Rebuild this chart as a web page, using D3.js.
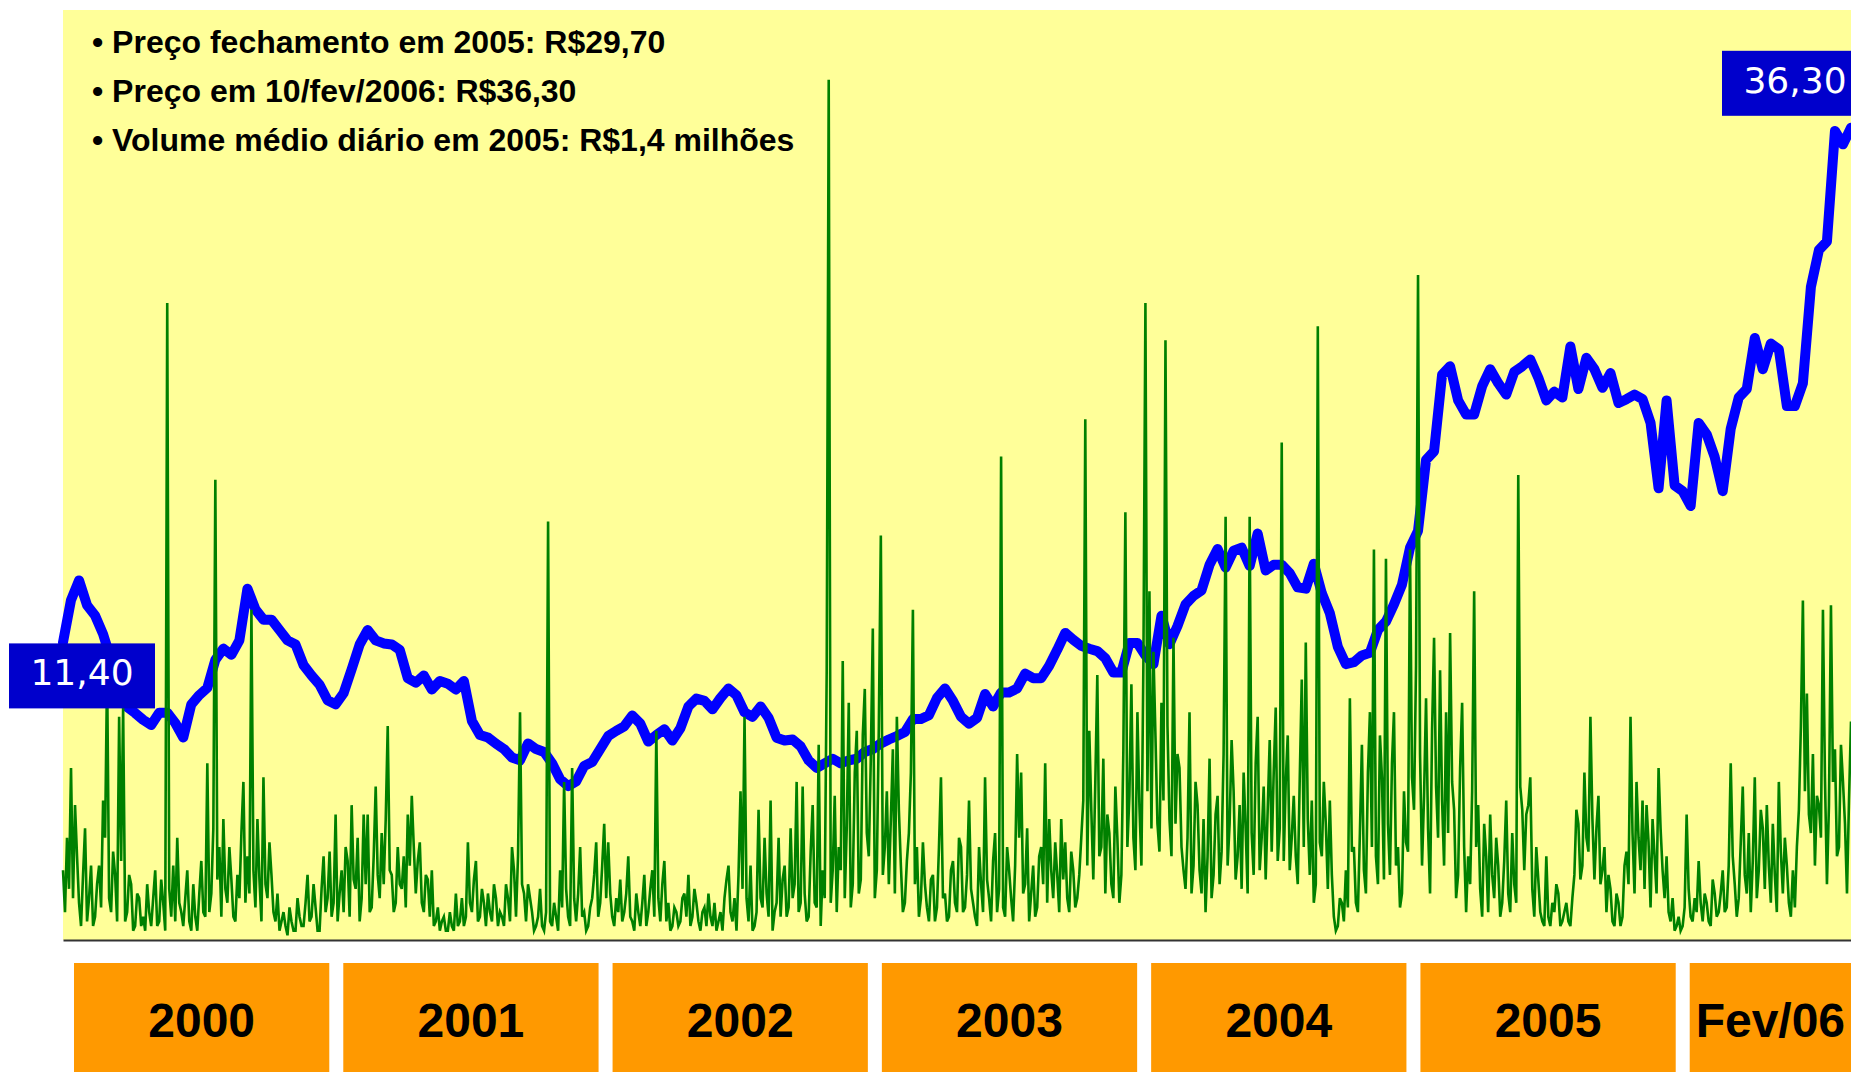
<!DOCTYPE html>
<html>
<head>
<meta charset="utf-8">
<script src="https://cdn.jsdelivr.net/npm/d3@7"></script>
<style>
    body { margin: 0; background: #fff; }
    svg { display: block; }
</style>
</head>
<body>
<div id="chart"></div>
<script>
// serie amostrada: preco a cada 10 dias, volume a cada 60 horas
var startDate = new Date(2000, 0, 3);
var endDate = new Date(2006, 1, 10);
var priceStepDays = 10;
var volumeStepHours = 60;

// preco de fechamento (R$)
var price = [
    11.4, 13.45, 14.4, 13.2, 12.7, 11.8, 10.55, 8.85, 8.27, 7.98,
    7.65, 7.4, 8.0, 8.0, 7.5, 6.8, 8.4, 8.85, 9.2, 10.55,
    11.1, 10.8, 11.5, 14.0, 13.0, 12.5, 12.5, 12.0, 11.5, 11.3,
    10.3, 9.8, 9.35, 8.6, 8.4, 8.95, 10.1, 11.3, 12.0, 11.5,
    11.35, 11.3, 11.04, 9.67, 9.45, 9.8, 9.12, 9.53, 9.4, 9.12,
    9.53, 7.6, 6.92, 6.8, 6.5, 6.24, 5.83, 5.69, 6.51, 6.24,
    6.1, 5.55, 4.78, 4.45, 4.67, 5.42, 5.61, 6.24, 6.87, 7.12,
    7.34, 7.86, 7.47, 6.6, 6.92, 7.2, 6.65, 7.25, 8.3, 8.68,
    8.57, 8.16, 8.71, 9.17, 8.84, 8.02, 7.8, 8.3, 7.75, 6.79,
    6.65, 6.7, 6.37, 5.69, 5.33, 5.55, 5.77, 5.55, 5.69, 5.77,
    6.1, 6.24, 6.51, 6.7, 6.87, 7.06, 7.69, 7.69, 7.88, 8.71,
    9.17, 8.57, 7.8, 7.47, 7.75, 8.9, 8.3, 8.98, 8.98, 9.17,
    9.89, 9.67, 9.67, 10.27, 11.04, 11.86, 11.53, 11.23, 11.09, 10.98,
    10.63, 9.94, 9.94, 11.37, 11.37, 10.77, 10.35, 12.69, 11.31, 12.19,
    13.24, 13.65, 13.92, 15.16, 15.92, 15.02, 15.84, 15.98, 15.1, 16.67,
    14.88, 15.16, 15.16, 14.75, 14.06, 14.0, 15.21, 13.78, 12.82, 11.18,
    10.35, 10.44, 10.77, 10.9, 12.0, 12.41, 13.24, 14.2, 15.98, 16.8,
    20.23, 20.65, 24.35, 24.76, 23.11, 22.43, 22.43, 23.8, 24.62, 23.94,
    23.39, 24.49, 24.76, 25.09, 24.21, 23.11, 23.53, 23.25, 25.72, 23.66,
    25.17, 24.62, 23.72, 24.43, 22.98, 23.17, 23.39, 23.17, 22.02, 18.86,
    23.11, 19.0, 18.72, 18.0, 22.02, 21.47, 20.37, 18.72, 21.74, 23.25,
    23.66, 26.13, 24.62, 25.86, 25.58, 22.84, 22.84, 23.94, 28.6, 30.39,
    30.8, 36.15, 35.5, 36.3
];

// volume negociado (R$ milhoes)
var volume = [
    1.5, 0.6, 2.2, 1.1, 3.7, 0.9, 2.9, 1.8, 0.8, 0.3, 1.4, 2.4, 0.4, 0.9, 1.6, 0.3, 0.5, 1.2, 1.6, 0.7,
    3.0, 2.2, 5.8, 0.9, 0.6, 1.9, 1.4, 0.4, 4.8, 1.7, 5.0, 0.4, 0.6, 1.4, 1.2, 0.2, 0.3, 1.0, 0.9, 0.3,
    0.5, 0.2, 1.2, 0.6, 0.3, 0.9, 1.5, 0.3, 0.4, 1.3, 0.8, 0.2, 13.7, 1.1, 0.5, 1.6, 0.4, 2.2, 0.8, 0.6,
    0.3, 0.9, 1.5, 0.4, 0.2, 1.2, 0.5, 0.2, 1.0, 1.7, 0.6, 0.5, 3.8, 0.6, 1.0, 2.4, 9.9, 1.3, 2.0, 0.5,
    2.6, 1.1, 0.8, 2.0, 1.3, 0.5, 0.4, 1.4, 0.9, 2.3, 3.4, 0.8, 1.8, 1.0, 7.1, 1.5, 0.7, 2.6, 1.3, 0.4,
    3.5, 1.2, 0.9, 2.1, 1.4, 0.6, 0.4, 1.0, 0.2, 0.4, 0.6, 0.3, 0.1, 0.7, 0.4, 0.2, 0.2, 0.9, 0.5, 0.3,
    0.3, 0.8, 1.4, 0.4, 0.5, 1.2, 0.7, 0.2, 0.2, 1.1, 1.8, 0.6, 0.9, 1.9, 0.5, 0.8, 2.7, 0.4, 1.0, 1.5,
    0.6, 2.0, 1.7, 0.5, 2.9, 1.3, 1.1, 2.2, 0.4, 0.9, 2.7, 1.2, 2.7, 0.6, 0.7, 1.8, 3.3, 1.4, 0.9, 2.3,
    1.2, 2.6, 4.6, 1.5, 1.4, 0.6, 0.8, 2.0, 1.2, 1.1, 1.8, 0.7, 2.7, 1.6, 3.1, 2.0, 1.0, 1.7, 2.1, 0.8,
    0.6, 1.4, 1.3, 0.5, 1.5, 0.3, 0.4, 0.7, 0.2, 0.4, 0.5, 0.2, 0.2, 0.6, 0.3, 0.2, 1.0, 0.3, 0.4, 0.9,
    0.3, 0.5, 2.1, 0.8, 0.6, 1.3, 1.7, 0.4, 0.5, 1.1, 0.8, 0.3, 1.0, 0.6, 0.4, 1.2, 0.9, 0.3, 0.6, 0.5,
    0.3, 1.2, 0.9, 0.4, 2.0, 1.5, 0.5, 1.8, 4.9, 1.2, 1.0, 0.4, 1.2, 0.9, 0.6, 0.2, 0.3, 0.5, 1.1, 0.3,
    0.2, 0.6, 9.0, 0.4, 0.3, 0.8, 0.5, 0.2, 1.5, 0.7, 3.4, 1.1, 0.5, 0.3, 3.7, 0.9, 0.4, 1.0, 2.0, 0.5,
    0.6, 0.2, 0.3, 0.7, 0.9, 1.4, 2.1, 0.5, 0.8, 1.6, 2.5, 0.9, 2.1, 1.0, 0.5, 0.3, 0.9, 0.6, 1.3, 0.4,
    0.6, 1.0, 1.8, 0.5, 0.4, 0.2, 1.0, 0.6, 0.3, 0.8, 1.4, 0.3, 0.6, 1.1, 1.5, 0.5, 4.5, 0.9, 0.4, 1.2,
    1.7, 0.4, 0.8, 0.2, 0.3, 0.7, 0.6, 0.3, 0.4, 0.9, 1.0, 0.5, 1.4, 0.3, 0.5, 1.1, 0.8, 0.4, 0.2, 0.6,
    0.7, 0.3, 1.0, 0.5, 0.3, 0.8, 0.2, 0.4, 0.6, 0.2, 0.9, 1.3, 1.6, 0.6, 0.4, 0.9, 0.2, 1.4, 3.2, 1.1,
    4.8, 0.9, 0.4, 1.6, 0.2, 0.3, 0.6, 2.8, 0.9, 0.7, 2.2, 1.0, 0.5, 3.0, 0.2, 0.6, 0.8, 2.2, 0.5, 1.3,
    1.6, 0.5, 0.7, 2.4, 0.9, 1.2, 3.4, 0.6, 0.8, 3.3, 1.0, 0.4, 0.5, 1.9, 2.9, 0.8, 0.7, 4.2, 0.3, 1.5,
    0.9, 5.8, 18.5, 0.8, 1.5, 3.1, 0.6, 2.0, 1.5, 6.0, 0.9, 2.4, 5.1, 0.7, 1.2, 3.6, 4.5, 1.0, 1.3, 4.4,
    5.4, 2.3, 1.8, 3.9, 6.7, 0.9, 1.5, 4.6, 8.7, 1.4, 2.0, 3.2, 1.2, 2.6, 4.1, 1.0, 4.8, 2.8, 1.6, 0.6,
    0.8, 1.7, 2.3, 3.6, 7.1, 1.2, 2.0, 0.5, 0.9, 2.1, 1.2, 0.7, 0.4, 1.3, 1.4, 0.4, 0.7, 2.0, 3.5, 0.9,
    1.0, 0.4, 0.5, 1.5, 1.7, 0.8, 0.6, 2.2, 2.0, 0.6, 0.7, 1.4, 3.0, 1.1, 0.8, 0.5, 0.3, 2.0, 1.2, 0.6,
    3.5, 1.3, 0.9, 0.4, 1.7, 2.3, 0.6, 1.1, 10.4, 0.7, 0.5, 2.0, 1.5, 0.9, 0.4, 1.6, 4.0, 2.2, 3.6, 1.0,
    1.2, 2.4, 0.4, 1.0, 1.6, 0.5, 0.7, 1.8, 2.0, 1.2, 3.8, 0.8, 2.6, 1.5, 0.9, 2.1, 1.4, 0.6, 2.6, 1.3,
    2.1, 0.9, 0.6, 1.9, 1.5, 0.7, 0.9, 1.4, 2.2, 3.0, 11.2, 1.6, 4.5, 2.8, 1.3, 3.4, 5.7, 1.8, 2.0, 3.9,
    1.0, 2.7, 2.3, 1.2, 0.9, 3.3, 2.2, 0.8, 1.4, 4.1, 9.2, 2.0, 3.1, 5.5, 2.2, 1.5, 4.9, 2.9, 1.6, 6.0,
    13.7, 3.2, 7.5, 2.4, 6.2, 4.4, 2.5, 1.9, 5.1, 3.0, 12.9, 4.6, 2.6, 1.8, 6.5, 2.5, 4.0, 3.7, 2.0, 1.5,
    1.1, 2.2, 4.9, 1.0, 1.6, 3.4, 2.9, 1.5, 1.0, 2.6, 0.6, 1.8, 3.9, 0.9, 1.4, 2.7, 3.1, 1.2, 1.9, 4.0,
    9.1, 1.6, 2.5, 4.3, 3.2, 1.3, 1.8, 2.9, 1.1, 3.6, 2.4, 1.0, 9.1, 2.3, 1.4, 3.8, 4.8, 1.5, 2.2, 3.3,
    1.3, 2.8, 4.3, 1.9, 3.6, 5.0, 1.7, 2.4, 10.7, 1.7, 3.4, 4.4, 1.5, 2.2, 3.1, 1.8, 1.2, 3.5, 5.6, 2.0,
    6.4, 2.6, 1.4, 3.0, 0.8, 1.2, 13.2, 2.1, 1.8, 3.4, 2.5, 1.1, 3.0, 1.4, 0.5, 0.2, 0.3, 0.9, 0.8, 0.4,
    1.5, 0.7, 5.2, 1.9, 2.0, 0.8, 0.6, 2.3, 4.2, 1.5, 1.0, 3.6, 4.9, 2.0, 8.4, 1.8, 1.2, 4.4, 3.5, 1.3,
    8.2, 2.5, 1.4, 3.8, 4.9, 1.6, 2.0, 0.7, 1.0, 3.2, 2.1, 1.9, 8.4, 3.5, 2.8, 5.9, 14.3, 4.0, 1.6, 3.1,
    5.2, 2.4, 1.0, 4.5, 6.5, 3.3, 2.2, 5.8, 3.0, 1.6, 4.9, 2.3, 6.6, 3.4, 2.8, 0.9, 1.4, 3.7, 5.1, 2.0,
    0.6, 1.8, 1.2, 3.2, 7.5, 2.0, 2.9, 1.1, 0.5, 2.5, 1.8, 0.6, 2.7, 1.4, 0.9, 2.2, 1.6, 0.5, 0.8, 1.7,
    3.0, 1.0, 0.6, 2.3, 1.2, 0.8, 10.0, 3.3, 2.8, 1.5, 2.7, 2.9, 3.5, 1.1, 0.5, 2.0, 1.3, 0.6, 0.4, 0.3,
    1.8, 0.5, 0.3, 0.8, 0.6, 1.2, 1.0, 0.3, 0.4, 0.6, 0.8, 0.4, 0.3, 0.9, 1.4, 2.8, 2.5, 1.3, 1.6, 3.6,
    2.2, 1.9, 4.8, 2.6, 1.3, 2.4, 3.1, 1.2, 1.5, 2.0, 0.6, 1.4, 1.1, 0.4, 0.3, 1.0, 0.8, 0.3, 0.5, 1.6,
    1.9, 1.2, 4.8, 2.3, 1.0, 3.4, 2.2, 1.5, 3.0, 1.1, 2.9, 2.1, 0.7, 2.6, 1.8, 1.0, 3.7, 2.4, 1.5, 0.9,
    1.8, 0.6, 0.4, 0.9, 0.2, 0.3, 0.5, 0.2, 0.3, 0.7, 2.7, 1.1, 0.5, 0.4, 0.9, 0.6, 1.7, 0.8, 0.4, 1.0,
    0.8, 0.4, 0.3, 1.3, 1.0, 0.5, 0.6, 1.0, 1.5, 0.6, 0.7, 1.6, 3.8, 1.8, 1.2, 0.5, 0.9, 2.1, 3.3, 1.4,
    1.0, 2.3, 0.6, 1.7, 3.5, 0.9, 1.5, 2.8, 2.4, 1.1, 2.9, 1.6, 0.8, 2.5, 1.4, 0.6, 3.4, 1.9, 1.0, 2.2,
    1.6, 0.8, 0.5, 1.5, 0.7, 2.0, 2.8, 4.6, 7.3, 3.2, 5.3, 2.7, 2.3, 4.0, 1.6, 3.1, 2.9, 2.2, 7.1, 3.5,
    1.2, 2.9, 7.2, 3.4, 4.1, 1.8, 2.0, 4.2, 3.4, 2.5, 1.0, 3.0, 4.7
];

var years = ["2000", "2001", "2002", "2003", "2004", "2005", "Fev/06"];

var notes = [
    "\u2022 Pre\u00e7o fechamento em 2005: R$29,70",
    "\u2022 Pre\u00e7o em 10/fev/2006: R$36,30",
    "\u2022 Volume m\u00e9dio di\u00e1rio em 2005: R$1,4 milh\u00f5es"
];

var firstLabel = "11,40";
var lastLabel = "36,30";

document.addEventListener('DOMContentLoaded', main);

function main() {

    var width = 1851;
    var height = 1072;
    var plot = { left: 63, top: 10, right: 1851, bottom: 940 };

    var svg = d3.select("#chart")
        .append("svg")
            .attr("width", width)
            .attr("height", height);

    var x = d3.scaleTime()
        .domain([startDate, endDate])
        .range([plot.left, plot.right]);

    var yPrice = d3.scaleLinear()
        .domain([-3, 42])
        .range([plot.bottom, plot.top]);

    var yVolume = d3.scaleLinear()
        .domain([0, 20])
        .range([plot.bottom, plot.top]);

    // fundo amarelo
    svg.append("rect")
        .attr("x", plot.left)
        .attr("y", plot.top)
        .attr("width", plot.right - plot.left)
        .attr("height", plot.bottom - plot.top)
        .attr("fill", "#ffff99");

    var priceLine = d3.line()
        .x(function (d, i) {
            return x(d3.timeDay.offset(startDate, i * priceStepDays));
        })
        .y(function (d) {
            return yPrice(d);
        });

    var volumeLine = d3.line()
        .x(function (d, i) {
            return x(d3.timeHour.offset(startDate, i * volumeStepHours));
        })
        .y(function (d) {
            return yVolume(d);
        });

    svg.append("path")
        .datum(price)
        .attr("d", priceLine)
        .attr("fill", "none")
        .attr("stroke", "#0000ff")
        .attr("stroke-width", 10)
        .attr("stroke-linejoin", "round")
        .attr("stroke-linecap", "round");

    svg.append("path")
        .datum(volume)
        .attr("d", volumeLine)
        .attr("fill", "none")
        .attr("stroke", "#008000")
        .attr("stroke-width", 2.6);

    var axis = svg.append("g")
        .attr("transform", "translate(0," + plot.bottom + ")")
        .call(d3.axisBottom(x).tickValues([]).tickSizeOuter(0));
    axis.select(".domain")
        .attr("stroke", "#333")
        .attr("stroke-width", 2);

    // textos de destaque
    svg.selectAll(".note")
        .data(notes)
        .enter().append("text")
        .attr("class", "note")
        .attr("x", 92)
        .attr("y", function (d, i) {
            return 53 + i * 49;
        })
        .attr("font-family", "'Liberation Sans', Arial, sans-serif")
        .attr("font-weight", "bold")
        .attr("font-size", 32)
        .attr("fill", "#000")
        .text(function (d) {
            return d;
        });

    // caixas dos anos
    var band = d3.scaleBand()
        .domain(years)
        .range([74, 1945])
        .paddingInner(0.052)
        .paddingOuter(0);

    var boxes = svg.selectAll(".year")
        .data(years)
        .enter().append("g")
        .attr("class", "year");

    boxes.append("rect")
        .attr("x", function (d) { return band(d); })
        .attr("y", 963)
        .attr("width", band.bandwidth())
        .attr("height", 120)
        .attr("fill", "#ff9900");

    boxes.append("text")
        .attr("x", function (d) {
            var x0 = band(d);
            var x1 = Math.min(x0 + band.bandwidth(), width);
            return (x0 + x1) / 2;
        })
        .attr("y", 1037)
        .attr("text-anchor", "middle")
        .attr("font-family", "'Liberation Sans', Arial, sans-serif")
        .attr("font-weight", "bold")
        .attr("font-size", 48)
        .attr("fill", "#000")
        .text(function (d) { return d; });

    // etiquetas de preco inicial e final
    var firstY = yPrice(price[0]);
    var lastY = yPrice(price[price.length - 1]);
    var labels = [
        { text: firstLabel, x: x(startDate) - 54, y: firstY + 1 },
        { text: lastLabel, x: x(endDate) - 129, y: lastY - 77 }
    ];

    var tags = svg.selectAll(".tag")
        .data(labels)
        .enter().append("g")
        .attr("class", "tag");

    tags.append("rect")
        .attr("x", function (d) { return d.x; })
        .attr("y", function (d) { return d.y; })
        .attr("width", 146)
        .attr("height", 65)
        .attr("fill", "#0000cc");

    tags.append("text")
        .attr("x", function (d) { return d.x + 73; })
        .attr("y", function (d) { return d.y + 42; })
        .attr("text-anchor", "middle")
        .attr("font-family", "'DejaVu Sans', Verdana, sans-serif")
        .attr("font-size", 36)
        .attr("fill", "#fff")
        .text(function (d) { return d.text; });
}
</script>
</body>
</html>
